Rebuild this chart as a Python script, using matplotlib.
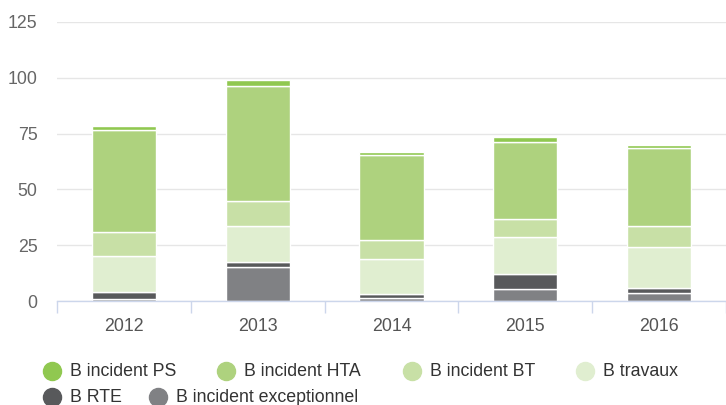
import numpy as np
import matplotlib.pyplot as plt
from matplotlib.lines import Line2D

plt.rcParams['font.family'] = ['Liberation Sans', 'DejaVu Sans']

# data (stack order bottom -> top)
years = ['2012', '2013', '2014', '2015', '2016']
b_exceptionnel = [1.0, 15.4, 1.2, 5.2, 3.4]
b_rte = [3.0, 2.2, 1.8, 6.8, 2.4]
b_travaux = [16.2, 16.0, 15.7, 16.6, 18.3]
b_bt = [10.6, 11.4, 8.7, 8.3, 9.5]
b_hta = [45.7, 51.4, 37.8, 34.5, 34.9]
b_ps = [1.7, 2.7, 1.6, 2.3, 1.6]

series = [
    ('B incident exceptionnel', b_exceptionnel, '#808184'),
    ('B RTE', b_rte, '#58595b'),
    ('B travaux', b_travaux, '#e0eed0'),
    ('B incident BT', b_bt, '#c8e0a6'),
    ('B incident HTA', b_hta, '#aed27e'),
    ('B incident PS', b_ps, '#90c850'),
]

fig = plt.figure(figsize=(7.26, 4.05), dpi=100)
W, H = 726, 405
ax = fig.add_axes([57 / W, (H - 301) / H, (726 - 57) / W, 279 / H])

x = np.arange(len(years))
bottom = np.zeros(len(years))
for name, vals, col in series:
    ax.bar(x, vals, width=0.48, bottom=bottom, color=col,
           edgecolor='white', linewidth=1, zorder=3)
    bottom += np.array(vals)

ax.set_xlim(-0.5, 4.46)
ax.set_ylim(0, 125)
ax.set_yticks([0, 25, 50, 75, 100, 125])
ax.grid(axis='y', color='#e6e6e6', linewidth=1, zorder=0)
ax.set_axisbelow(True)

for s in ['top', 'right', 'left']:
    ax.spines[s].set_visible(False)
ax.spines['bottom'].set_color('#ccd6eb')
ax.spines['bottom'].set_linewidth(1)
ax.spines['bottom'].set_zorder(4)

ax.set_xticks(x)
ax.set_xticklabels(years)
ax.set_xticks(np.arange(-0.5, 5, 1), minor=True)
ax.tick_params(axis='x', which='major', length=0, pad=12, labelsize=12.8,
               labelcolor='#555555')
ax.tick_params(axis='x', which='minor', length=8.6, color='#ccd6eb', width=1)
ax.tick_params(axis='y', length=0, pad=14, labelsize=12.8, labelcolor='#666666')

# legend laid out like the reference (flowing items, two rows)
legend_order = ['B incident PS', 'B incident HTA', 'B incident BT', 'B travaux',
                'B RTE', 'B incident exceptionnel']
colors = {name: col for name, _, col in series}
legend_pos = [(52, 371), (226, 371), (412, 371), (585, 371),
              (52, 397), (158, 397)]
for name, (px, py) in zip(legend_order, legend_pos):
    fig.add_artist(Line2D([px / W], [1 - py / H], marker='o', markersize=13,
                          color=colors[name], linestyle='none',
                          transform=fig.transFigure))
    fig.text((px + 18) / W, 1 - py / H, name, fontsize=12.8, color='#333333',
             va='center', ha='left')

fig.savefig('out.png', dpi=100, facecolor='white')
